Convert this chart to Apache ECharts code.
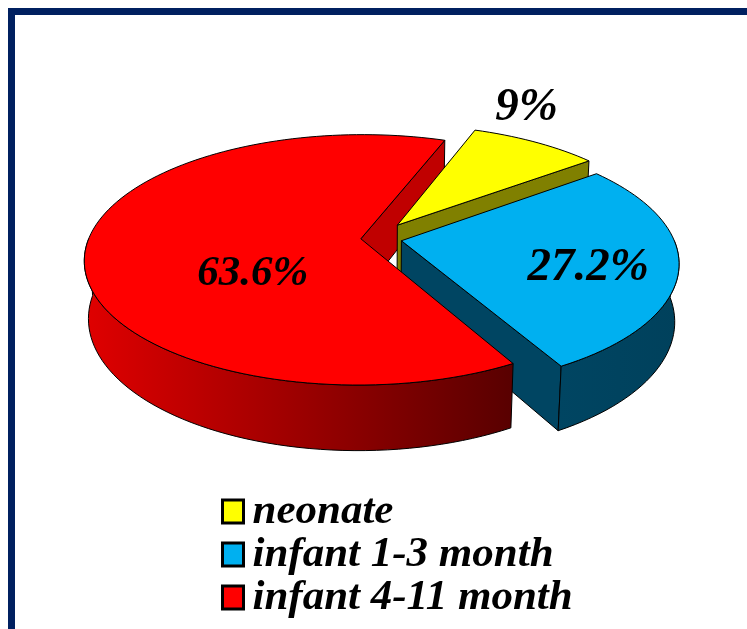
<!DOCTYPE html>
<html>
<head>
<meta charset="utf-8">
<title>Age groups</title>
<style>
  html, body { margin: 0; padding: 0; background: #fff; }
  #chart { width: 747px; height: 629px; }
</style>
<script src="https://cdn.jsdelivr.net/npm/echarts@6/dist/echarts.min.js"></script>
</head>
<body>
<div id="chart"></div>
<script>
const categories = ['neonate', 'infant 1-3 month', 'infant 4-11 month'];
const percents = [9, 27.2, 63.6];

const topColors = ['#FFFF00', '#00B0F0', '#FF0000'];
const faceColors = ['#808000', '#004562', '#C00000'];
const wallColors = [
  ['#808000', '#808000'],
  ['#004562', '#00415C'],
  ['#E00000', '#580000'],
];
const explode = [0.137, 0.097, 0.054];
const labelAngle = [26, 106.8, 235.3];
const labelRadius = [1.364, 0.688, 0.459];
const labelSize = [47, 47, 43];
const drawOrder = [1, 2, 3];

const FONT = '"Liberation Serif", "DejaVu Serif", serif';
const firstAngle = 20.4;

// perspective of the pie plane, fitted by eye against the picture
const view = { x: 375.5, y: 238.3, a: 272, b: 121.5, k: 0.168, m: 0.014, h: 57.5 };

function project(u, v, t) {
  const w = 1 + view.k * v + view.m * t;
  return [view.x + view.a * u / w, view.y + (view.h * t - view.b * v) / w];
}

const total = percents.reduce((a, b) => a + b, 0);
const starts = [];
percents.reduce((acc, p, i) => {
  starts[i] = acc;
  return acc + p / total * 360;
}, firstAngle);

const rad = (deg) => deg * Math.PI / 180;

function arc(cu, cv, from, to, t) {
  const pts = [];
  const n = Math.max(2, Math.ceil((to - from) / 2));
  for (let i = 0; i <= n; i++) {
    const a = rad(from + (to - from) * i / n);
    pts.push(project(cu + Math.sin(a), cv + Math.cos(a), t));
  }
  return pts;
}

function renderSlice(i) {
  const from = starts[i];
  const to = from + percents[i] / total * 360;
  const mid = rad((from + to) / 2);
  const cu = explode[i] * Math.sin(mid);
  const cv = explode[i] * Math.cos(mid);
  const line = { stroke: '#000', lineWidth: 1, lineJoin: 'round' };
  const children = [];

  // the cut side that faces the viewer (clockwise end of the slice)
  const endA = rad(to);
  const rimU = cu + Math.sin(endA), rimV = cv + Math.cos(endA);
  children.push({
    type: 'polygon',
    z2: i === 2 ? 0 : drawOrder[i],
    shape: { points: [project(cu, cv, 0), project(rimU, rimV, 0), project(rimU, rimV, 1), project(cu, cv, 1)] },
    style: Object.assign({ fill: faceColors[i] }, line),
  });

  // outer wall, only where the rim is on the near side
  const wFrom = Math.max(from, 90);
  const wTo = Math.min(to, 270);
  if (wTo > wFrom) {
    const top = arc(cu, cv, wFrom, wTo, 0);
    const bottom = arc(cu, cv, wFrom, wTo, 1).reverse();
    children.push({
      type: 'polygon',
      z2: drawOrder[i],
      shape: { points: top.concat(bottom) },
      style: Object.assign({
        fill: new echarts.graphic.LinearGradient(1, 0, 0, 0, [
          { offset: 0, color: wallColors[i][1] },
          { offset: 1, color: wallColors[i][0] },
        ]),
      }, line),
    });
  }

  // top surface
  children.push({
    type: 'polygon',
    z2: drawOrder[i],
    shape: { points: [project(cu, cv, 0)].concat(arc(cu, cv, from, to, 0)) },
    style: Object.assign({ fill: topColors[i] }, line),
  });

  // value label
  const la = rad(labelAngle[i]);
  const lp = project(cu + labelRadius[i] * Math.sin(la), cv + labelRadius[i] * Math.cos(la), 0);
  children.push({
    type: 'text',
    z2: 10,
    x: lp[0],
    y: lp[1] + 2,
    style: {
      text: percents[i] + '%',
      fill: '#000',
      align: 'center',
      verticalAlign: 'middle',
      font: 'italic bold ' + labelSize[i] + 'px ' + FONT,
    },
  });

  return { type: 'group', children: children };
}

const chart = echarts.init(document.getElementById('chart'));

chart.setOption({
  animation: false,
  backgroundColor: '#fff',
  graphic: [{
    type: 'rect',
    shape: { x: 11.5, y: 11.5, width: 800, height: 700 },
    style: { fill: 'none', stroke: '#002060', lineWidth: 7 },
    silent: true,
  }],
  legend: {
    orient: 'vertical',
    left: 221,
    top: 490,
    padding: 0,
    itemWidth: 21,
    itemHeight: 23,
    itemGap: 0,
    icon: 'rect',
    selectedMode: false,
    itemStyle: { borderColor: '#000', borderWidth: 3 },
    textStyle: {
      fontFamily: FONT,
      fontStyle: 'italic',
      fontWeight: 'bold',
      fontSize: 43,
      lineHeight: 43,
      color: '#000',
      padding: [0, 0, 0, 4],
    },
    data: categories,
  },
  series: categories.map((name, i) => ({
    type: 'custom',
    name: name,
    coordinateSystem: 'none',
    silent: true,
    itemStyle: { color: topColors[i] },
    data: [percents[i]],
    renderItem: () => renderSlice(i),
  })),
});
</script>
</body>
</html>
